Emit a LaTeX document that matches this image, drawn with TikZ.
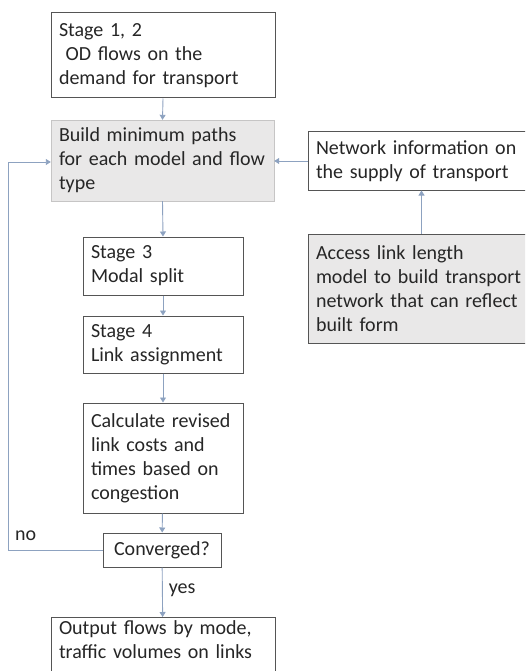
\documentclass[tikz,border=0pt]{standalone}
\usepackage{fontspec}
\setmainfont{Carlito}
\usetikzlibrary{arrows.meta}
\definecolor{arr}{HTML}{8DA2C0}
\definecolor{boxline}{HTML}{555555}
\definecolor{txt}{HTML}{262626}
\definecolor{grayfill}{HTML}{E9E8E8}
\begin{document}
\begin{tikzpicture}[x=1pt,y=-1pt,
  font=\fontsize{20}{24}\selectfont,
  box/.style={draw=boxline,line width=1pt,fill=white,text=txt,align=left,inner xsep=8pt,inner ysep=2pt,anchor=center},
  gbox/.style={box,fill=grayfill},
  link/.style={draw=arr,line width=0.9pt,-{Triangle[length=5pt,width=6pt]}},
  lbl/.style={text=txt,inner sep=0pt}]
\useasboundingbox (0,0) rectangle (525,671);
\clip (0,0) rectangle (525,671);
\node[box,minimum width=224pt,minimum height=85pt,text width=208pt] (b1) at (163,55.5)
  {Stage 1, 2\\\ OD flows on the\\demand for transport};
\node[gbox,draw=grayfill!85!black,line width=0.4pt,minimum width=223pt,minimum height=81pt,text width=207pt] (b2) at (162.5,160.5)
  {Build minimum paths\\for each model and flow\\type};
\node[box,minimum width=227pt,minimum height=58pt,text width=211pt] (net) at (421.5,161)
  {Network information on\\the supply of transport};
\node[gbox,minimum width=227pt,minimum height=109pt,text width=211pt] (acc) at (421.5,288.5)
  {Access link length\\model to build transport\\network that can reflect\\built form};
\node[box,minimum width=160pt,minimum height=58pt,text width=144pt] (s3) at (163,266)
  {Stage 3\\Modal split};
\node[box,minimum width=160pt,minimum height=57pt,text width=144pt] (s4) at (163,344.5)
  {Stage 4\\Link assignment};
\node[box,minimum width=160pt,minimum height=110pt,text width=144pt] (calc) at (163,458)
  {Calculate revised\\link costs and\\times based on\\congestion};
\node[box,align=center,minimum width=118pt,minimum height=34pt] (conv) at (162,550)
  {Converged?};
\node[box,minimum width=224pt,minimum height=75pt,text width=208pt,anchor=north] (out) at (163,617)
  {Output flows by mode,\\traffic volumes on links\\\strut};
\coordinate (lb) at (8,550);
\coordinate (lt) at (8,162);
\draw[link] (b1.south) -- (b2.north);
\draw[link] (b2.south) -- (s3.north);
\draw[link] (s3) -- (s4);
\draw[link] (s4) -- (calc);
\draw[link] (calc) -- (conv);
\draw[link] (conv) -- node[lbl,right=6pt,pos=0.45] (yes) {yes} (out);
\draw[link] (net.west) -- (b2.east|-net.west);
\draw[link] (acc.north) -- (net.south);
\draw[link] (conv.west) -- (lb) -- (lt) -- (b2.west|-lt);
\node[lbl,anchor=west] (no) at (15,536) {no};
\end{tikzpicture}
\end{document}
